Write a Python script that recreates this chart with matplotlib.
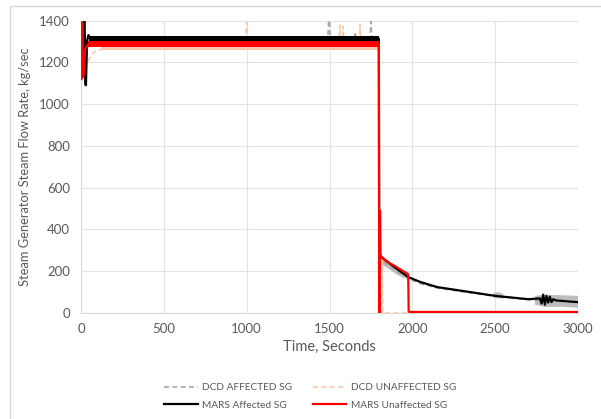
import matplotlib
matplotlib.use("Agg")
import matplotlib.pyplot as plt
from matplotlib.lines import Line2D
from matplotlib.patches import Rectangle

plt.rcParams['font.family'] = ['Lato', 'DejaVu Sans']
nan = float("nan")

# ---------------- data ----------------
# MARS Affected SG (black)
t_mars_a = [0, 8, 15, 22, 26, 30, 36, 45, 60, 100, 1798, 1800, 1806, 1812, 1850, 1900,
            1975, 2050, 2150, 2300, 2500, 2700, 2770, 2780, 2790, 2800, 2810, 2820,
            2830, 2840, 2850, 2870, 2950, 3000]
v_mars_a = [1300, 1200, 1390, 1395, 1095, 1090, 1300, 1330, 1312, 1313, 1313, 300, 275,
            268, 245, 215, 172, 148, 124, 106, 82, 66, 70, 45, 88, 40, 82, 50, 78,
            52, 66, 60, 55, 52]
# noise envelope of MARS Affected SG during steady state
t_mars_a_band = [50, 1798]
lo_mars_a_band = [1302, 1302]
hi_mars_a_band = [1324, 1324]

# MARS Unaffected SG (red)
t_mars_u = [0, 3, 8, 12, 18, 25, 35, 50, 100, 1798, 1800, 1803, 1805, 1808, 1815, 1850,
            1900, 1966, 1975, 1978, 2000, 3000]
v_mars_u = [1400, 1120, 1390, 1130, 1150, 1260, 1280, 1288, 1288, 1288, 0, 0, 490, 275,
            268, 245, 222, 190, 185, 6, 5, 5]
t_mars_u_band = [40, 1798]
lo_mars_u_band = [1274, 1274]
hi_mars_u_band = [1303, 1303]

# DCD AFFECTED SG (grey dashed)
t_dcd_a = [0, 10, 20, 30, 40, 60, 100, 1000, 1490, 1495, 1500, 1505, 1600, 1650, 1655,
           1660, 1745, 1750, 1755, 1798, 1800, 1810, 1850, 1900, 1975, 2050, 2150,
           2300, 2500, 2700, 2850, 3000]
v_dcd_a = [1150, 1120, 1300, 1150, 1280, 1305, 1310, 1312, 1312, 1400, 1400, 1312, 1312,
           1312, 1345, 1312, 1312, 1395, 1312, 1312, 0, 255, 230, 205, 165, 140, 120,
           102, 80, 64, 56, 50]
t_dcd_a_band = [1810, 1850, 1900, 1950, 1951, 2490, 2520, 2550, 2551, 2740, 2800, 2900, 3000]
lo_dcd_a_band = [235, 215, 188, 165, nan, 72, 70, 68, nan, 40, 28, 30, 25]
hi_dcd_a_band = [262, 240, 210, 180, nan, 96, 100, 90, nan, 82, 88, 85, 82]

# DCD UNAFFECTED SG (peach dashed)
t_dcd_u = [0, 5, 10, 20, 40, 60, 80, 120, 175, 990, 1000, 1010, 1555, 1563, 1570, 1578,
           1582, 1588, 1680, 1684, 1690, 1798, 1802, 1815, 1818, 1822, 3000]
v_dcd_u = [1130, 1110, 1115, 1150, 1200, 1230, 1250, 1262, 1272, 1280, 1392, 1280, 1280,
           1378, 1280, 1280, 1372, 1280, 1280, 1383, 1280, 1280, 0, 0, 250, 0, 0]
t_dcd_u_band = [120, 1798]
lo_dcd_u_band = [1260, 1260]
hi_dcd_u_band = [1300, 1300]

series_labels = ["DCD AFFECTED SG", "DCD UNAFFECTED SG", "MARS Affected SG", "MARS Unaffected SG"]
x_ticks = [0, 500, 1000, 1500, 2000, 2500, 3000]
y_ticks = [0, 200, 400, 600, 800, 1000, 1200, 1400]

# ---------------- styling ----------------
c_grey = "#A6A6A6"
c_peach = "#F8C8A8"
c_black = "#000000"
c_red = "#FF0000"
txt = "#595959"
grid = "#E3E3E3"

W, H = 601, 419
fig = plt.figure(figsize=(W / 100, H / 100), dpi=100)
ax = fig.add_axes([81 / W, 1 - 313 / H, (578 - 81) / W, (313 - 20.5) / H])

# bands
ax.fill_between(t_dcd_u_band, lo_dcd_u_band, hi_dcd_u_band, color=c_peach, lw=0, zorder=2)
ax.fill_between(t_dcd_a_band, lo_dcd_a_band, hi_dcd_a_band, color="#BDBDBD", lw=0, zorder=2)
ax.fill_between(t_mars_a_band, lo_mars_a_band, hi_mars_a_band, color=c_black, lw=0, zorder=4)
ax.fill_between(t_mars_u_band, lo_mars_u_band, hi_mars_u_band, color=c_red, lw=0, zorder=5)

ax.plot(t_dcd_a, v_dcd_a, color=c_grey, lw=1.2, ls=(0, (3, 2)), zorder=3)
ax.plot(t_dcd_u, v_dcd_u, color=c_peach, lw=1.2, ls=(0, (3, 2)), zorder=3)
ax.plot(t_mars_a, v_mars_a, color=c_black, lw=1.6, zorder=4)
ax.plot(t_mars_u, v_mars_u, color=c_red, lw=1.6, zorder=5)

ax.set_xlim(0, 3000)
ax.set_ylim(0, 1400)
ax.set_xticks(x_ticks)
ax.set_yticks(y_ticks)
ax.grid(True, color=grid, lw=0.8, zorder=0)
ax.set_axisbelow(True)
for s in ["top", "right"]:
    ax.spines[s].set_visible(False)
for s in ["left", "bottom"]:
    ax.spines[s].set_color("#D9D9D9")
    ax.spines[s].set_linewidth(0.8)
ax.tick_params(length=0, colors=txt, labelsize=9.5, pad=8)
ax.tick_params(axis='x', pad=7)
ax.set_xlabel("Time, Seconds", color=txt, fontsize=10.5, labelpad=4)
ax.set_ylabel("Steam Generator Steam Flow Rate, kg/sec", color=txt, fontsize=9.3, labelpad=6)

h_dcd_a = Line2D([], [], color=c_grey, lw=1.2, ls=(0, (3, 2)))
h_dcd_u = Line2D([], [], color=c_peach, lw=1.2, ls=(0, (3, 2)))
h_mars_a = Line2D([], [], color=c_black, lw=1.6)
h_mars_u = Line2D([], [], color=c_red, lw=1.6)
# legend fills column-wise: order so rows read DCD / MARS
leg = fig.legend([h_dcd_a, h_mars_a, h_dcd_u, h_mars_u],
                 [series_labels[0], series_labels[2], series_labels[1], series_labels[3]],
                 ncol=2, loc="center", bbox_to_anchor=(310 / W, 1 - 396.5 / H),
                 frameon=False, fontsize=7.3, handlelength=3.3, columnspacing=2.0,
                 handletextpad=0.45, labelspacing=0.85)
for t in leg.get_texts():
    t.set_color(txt)

# outer chart border (cropped excel chart frame)
fig.patches.append(Rectangle((10 / W, -0.1), 1.2, 1 - 6 / H + 0.1, transform=fig.transFigure,
                             fill=False, edgecolor="#D9D9D9", lw=1.0))

fig.savefig("out.png", dpi=100)
